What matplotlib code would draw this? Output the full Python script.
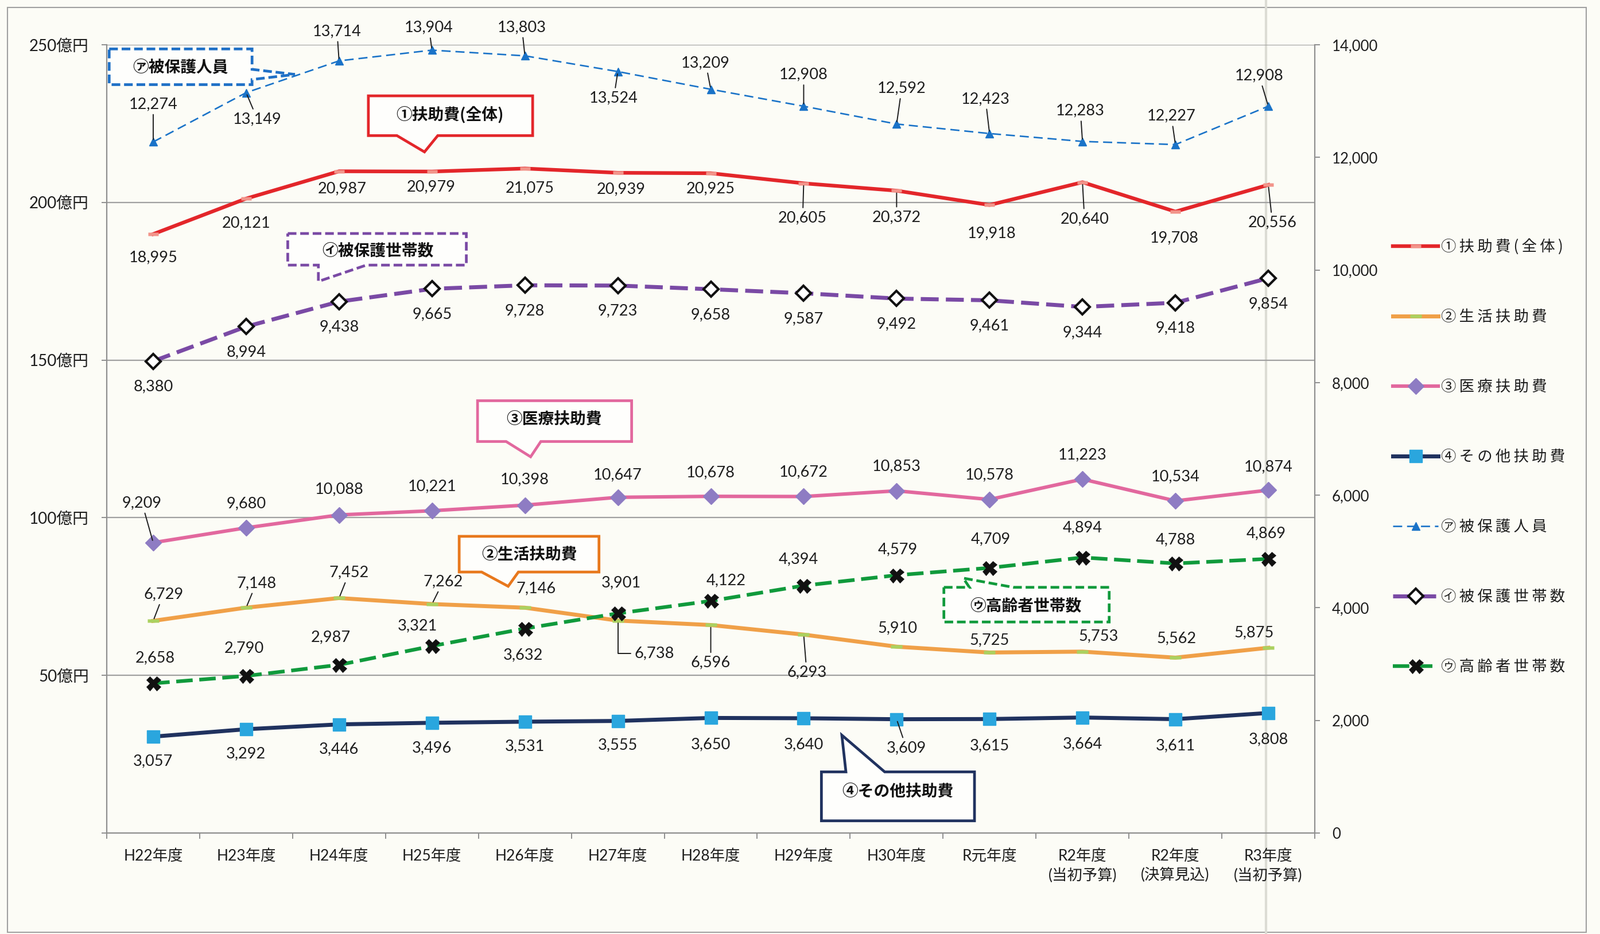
import matplotlib
matplotlib.use('Agg')
import matplotlib.pyplot as plt
from matplotlib.patches import Polygon, Rectangle
from matplotlib.lines import Line2D
import numpy as np

# ---------------- data ----------------
categories = ['H22年度', 'H23年度', 'H24年度', 'H25年度', 'H26年度', 'H27年度', 'H28年度',
              'H29年度', 'H30年度', 'R元年度', 'R2年度\n(当初予算)', 'R2年度\n(決算見込)', 'R3年度\n(当初予算)']
# 百万円 (left axis)
fujo_total = [18995, 20121, 20987, 20979, 21075, 20939, 20925, 20605, 20372, 19918, 20640, 19708, 20556]
seikatsu = [6729, 7148, 7452, 7262, 7146, 6738, 6596, 6293, 5910, 5725, 5753, 5562, 5875]
iryo = [9209, 9680, 10088, 10221, 10398, 10647, 10678, 10672, 10853, 10578, 11223, 10534, 10874]
sonota = [3057, 3292, 3446, 3496, 3531, 3555, 3650, 3640, 3609, 3615, 3664, 3611, 3808]
# 人・世帯 (right axis)
hogo_jinin = [12274, 13149, 13714, 13904, 13803, 13524, 13209, 12908, 12592, 12423, 12283, 12227, 12908]
hogo_setai = [8380, 8994, 9438, 9665, 9728, 9723, 9658, 9587, 9492, 9461, 9344, 9418, 9854]
koreisha_setai = [2658, 2790, 2987, 3321, 3632, 3901, 4122, 4394, 4579, 4709, 4894, 4788, 4869]

left_ticks = [0, 5000, 10000, 15000, 20000, 25000]
left_ticklabels = ['', '50億円', '100億円', '150億円', '200億円', '250億円']
right_ticks = [0, 2000, 4000, 6000, 8000, 10000, 12000, 14000]

series_names = ['①扶助費(全体)', '②生活扶助費', '③医療扶助費', '④その他扶助費',
                '㋐被保護人員', '㋑被保護世帯数', '㋒高齢者世帯数']

# ---------------- styling ----------------
BG = '#fcfcf6'
CJK = ['Noto Sans CJK JP', 'DejaVu Sans']
NUM = ['Lato', 'Noto Sans CJK JP', 'DejaVu Sans']
TXT = '#1e1e1e'
GRAY = '#8f8f8f'
plt.rcParams['font.family'] = CJK

W, H = 2788, 1628
fig = plt.figure(figsize=(W / 100, H / 100), dpi=100, facecolor=BG)

def fp(x, y):
    """reference (1568x916 preview) pixel -> figure fraction"""
    return (x / 1568.0, 1 - y / 916.0)

# scan frame / artifacts
fig.add_artist(Rectangle((13 / W, 3 / H), (2764 - 13) / W, (1625 - 13) / H, transform=fig.transFigure,
                         fill=False, ec='#a0a0a0', lw=1.5, zorder=-2))
fig.add_artist(Line2D([2206 / W, 2206 / W], [0, 1], transform=fig.transFigure, color='#dcdcd4',
                      lw=3, zorder=-2))

ax = fig.add_axes([186 / W, 1 - 1452 / H, (2291 - 186) / W, (1452 - 78) / H])
ax.patch.set_visible(False)
ax2 = ax.twinx()
ax2.patch.set_visible(False)

ax.set_xlim(-0.5, len(categories) - 0.5)
ax.set_ylim(0, 25000)
ax2.set_ylim(0, 14000)

x = np.arange(len(categories))

# custom flat marker (short bar)
bar_marker = [(-1.5, -0.5), (1.5, -0.5), (1.5, 0.5), (-1.5, 0.5), (-1.5, -0.5)]

l1, = ax.plot(x, fujo_total, color='#e3262a', lw=4.6, marker=bar_marker, ms=13,
              mfc='#f2948a', mec='none', zorder=5, solid_joinstyle='round')
l2, = ax.plot(x, seikatsu, color='#f0a048', lw=5, marker=bar_marker, ms=14,
              mfc='#abd160', mec='none', zorder=4, solid_joinstyle='round')
l3, = ax.plot(x, iryo, color='#e2689e', lw=4.4, marker='D', ms=14.5,
              mfc='#8e7cc3', mec='#8e7cc3', zorder=4, solid_joinstyle='round')
l4, = ax.plot(x, sonota, color='#20325f', lw=5, marker='s', ms=16,
              mfc='#2aa6de', mec='#2aa6de', zorder=4, solid_joinstyle='round')

la, = ax2.plot(x, hogo_jinin, color='#1a73c8', lw=1.9, ls=(0, (6, 3.2)), marker='^', ms=10,
               mfc='#1a73c8', mec='#1a73c8', zorder=4)
lb, = ax2.plot(x, hogo_setai, color='#7a4aa5', lw=5, ls=(0, (4.5, 1.8)), marker='D', ms=13.5,
               mfc='white', mec='#111111', mew=3, zorder=4)
lc, = ax2.plot(x, koreisha_setai, color='#109a3c', lw=4.6, ls=(0, (4.5, 1.8)), marker='X', ms=18,
               mfc='#111111', mec='#111111', mew=0.5, zorder=4)

# ---------------- axes cosmetics ----------------
for a in (ax, ax2):
    a.spines['top'].set_visible(False)
ax.spines['right'].set_visible(False)
ax2.spines['left'].set_visible(False)
ax2.spines['bottom'].set_visible(False)
for s in ('left', 'bottom'):
    ax.spines[s].set_color(GRAY)
    ax.spines[s].set_linewidth(1.6)
ax2.spines['right'].set_color(GRAY)
ax2.spines['right'].set_linewidth(1.6)

ax.set_yticks(left_ticks)
ax.set_yticklabels(left_ticklabels, family=NUM, fontsize=20, color=TXT)
ax.tick_params(axis='y', length=6.5, width=1.4, color=GRAY, pad=16)
ax.yaxis.grid(True, color='#a0a0a0', lw=1.6)
ax.set_axisbelow(True)

ax2.set_yticks(right_ticks)
ax2.set_yticklabels([f'{v:,}' for v in right_ticks], family=NUM, fontsize=18.5, color=TXT)
ax2.tick_params(axis='y', length=6.5, width=1.4, color=GRAY, pad=15)

ax.set_xticks(x)
ax.set_xticklabels(categories, family=NUM, fontsize=19, color=TXT, linespacing=1.35, va='top')
ax.set_xticks(np.arange(-0.5, len(categories), 1), minor=True)
ax.tick_params(axis='x', which='major', length=0, pad=20)
ax.tick_params(axis='x', which='minor', length=7, width=1.4, color=GRAY)

# ---------------- data labels ----------------
K = 1.28  # preview px -> points

def label_series(axis, values, offsets, leaders, elbows=()):
    for i, v in enumerate(values):
        dx, dy = offsets[i]
        kw = {}
        if i in leaders:
            kw['arrowprops'] = dict(arrowstyle='-', color='#1e1e1e', lw=1.4, shrinkA=2, shrinkB=3)
        if i in elbows:
            kw['arrowprops'] = dict(arrowstyle='-', color='#1e1e1e', lw=1.4, shrinkA=3, shrinkB=3,
                                    relpos=(0, 0.5),
                                    connectionstyle='angle,angleA=0,angleB=90,rad=0')
        axis.annotate(f'{v:,}', xy=(i, v), xytext=(dx * K, -dy * K), textcoords='offset points',
                      ha='center', va='center', fontsize=19.5, family=NUM, color=TXT, zorder=6, **kw)

off_a = [(0, -37), (11, 26), (-2, -29), (-3, -22), (-3, -28), (-4, 26), (-5, -26), (0, -31),
         (5, -35), (-4, -34), (-2, -30), (-4, -28), (-9, -30)]
label_series(ax2, hogo_jinin, off_a, leaders={0, 1, 2, 3, 4, 5, 6, 7, 8, 9, 10, 11, 12})

off_1 = [(0, 23), (0, 24), (3, 17), (-1, 15), (5, 19), (3, 16), (0, 15), (-1, 34), (0, 26),
         (2, 28), (2, 36), (-1, 26), (4, 37)]
label_series(ax, fujo_total, off_1, leaders={7, 8, 10, 12})

off_b = [(0, 25)] * len(hogo_setai)
label_series(ax2, hogo_setai, off_b, leaders=set())

off_3 = [(-11, -39), (0, -24), (0, -25), (0, -24), (0, -25), (0, -22), (0, -23), (0, -24),
         (0, -24), (0, -24), (0, -24), (0, -24), (0, -23)]
label_series(ax, iryo, off_3, leaders={0})

off_2 = [(10, -26), (10, -24), (10, -25), (11, -22), (11, -19), (36, 32), (0, 37), (3, 37),
         (1, -18), (0, -12), (16, -15), (1, -19), (-14, -15)]
label_series(ax, seikatsu, off_2, leaders={0, 1, 2, 3, 6, 7}, elbows={5})

off_c = [(2, -25), (-2, -27), (-8, -27), (-14, -20), (-2, 26), (3, -30), (15, -20), (-5, -26),
         (1, -25), (1, -28), (0, -29), (0, -23), (-2, -25)]
label_series(ax2, koreisha_setai, off_c, leaders=set())

off_4 = [(0, 24), (0, 24), (0, 24.5), (0, 24.5), (0, 24), (0, 24), (0, 26), (0, 26),
         (9.5, 28), (0, 26), (0, 26), (0, 26), (0, 26)]
label_series(ax, sonota, off_4, leaders={8})

# ---------------- callouts ----------------
callouts = [
    ([(107, 48), (247, 48), (247, 68), (289, 73), (247, 78), (247, 83), (107, 83)],
     (177, 66), series_names[4], '#1f70c6', 'dashed'),
    ([(361, 94), (522, 94), (522, 133), (429, 133), (416, 149), (389, 133), (361, 133)],
     (441, 112), '①扶助費(全体)', '#e3262a', 'solid'),
    ([(282, 229), (457, 229), (457, 260), (359, 260), (312, 276), (312, 260), (282, 260)],
     (370, 246), series_names[5], '#7a4aa5', 'dashed'),
    ([(468, 393), (619, 393), (619, 433), (530, 433), (520, 448), (496, 433), (468, 433)],
     (543, 411), series_names[2], '#e2689e', 'solid'),
    ([(450, 526), (587, 526), (587, 561), (508, 561), (498, 575), (472, 561), (450, 561)],
     (519, 544), series_names[1], '#e8781c', 'solid'),
    ([(925, 576), (950, 576), (944, 567), (993, 576), (1087, 576), (1087, 610), (925, 610)],
     (1005, 594), series_names[6], '#109a3c', 'dashed'),
    ([(805, 757), (829, 757), (825, 721), (867, 757), (955, 757), (955, 805), (805, 805)],
     (880, 776), series_names[3], '#20325f', 'solid'),
]
for pts, c, txt, col, ls in callouts:
    verts = [fp(px, py) for px, py in pts]
    lsty = (0, (3.2, 1.4)) if ls == 'dashed' else 'solid'
    poly = Polygon(verts, closed=True, transform=fig.transFigure, fc='#fefefc', ec=col,
                   lw=3.4, ls=lsty, joinstyle='miter', zorder=8)
    fig.add_artist(poly)
    cx, cy = fp(*c)
    fig.text(cx, cy, txt, ha='center', va='center', fontsize=20, fontweight='bold',
             family=CJK, color='#111111', zorder=9)

# ---------------- legend ----------------
def spaced(s):
    return '\u2009'.join(s)

leg = fig.legend([l1, l2, l3, l4, la, lb, lc], [spaced(s) for s in series_names],
                 loc='upper left', bbox_to_anchor=(2427 / W, 1 - 416 / H),
                 frameon=False, handlelength=3.0, handletextpad=0.2,
                 labelspacing=3.6, borderpad=0, borderaxespad=0, numpoints=1,
                 prop={'family': CJK, 'size': 19})
for t in leg.get_texts():
    t.set_color(TXT)

fig.savefig('out.png', dpi=100, facecolor=BG)
